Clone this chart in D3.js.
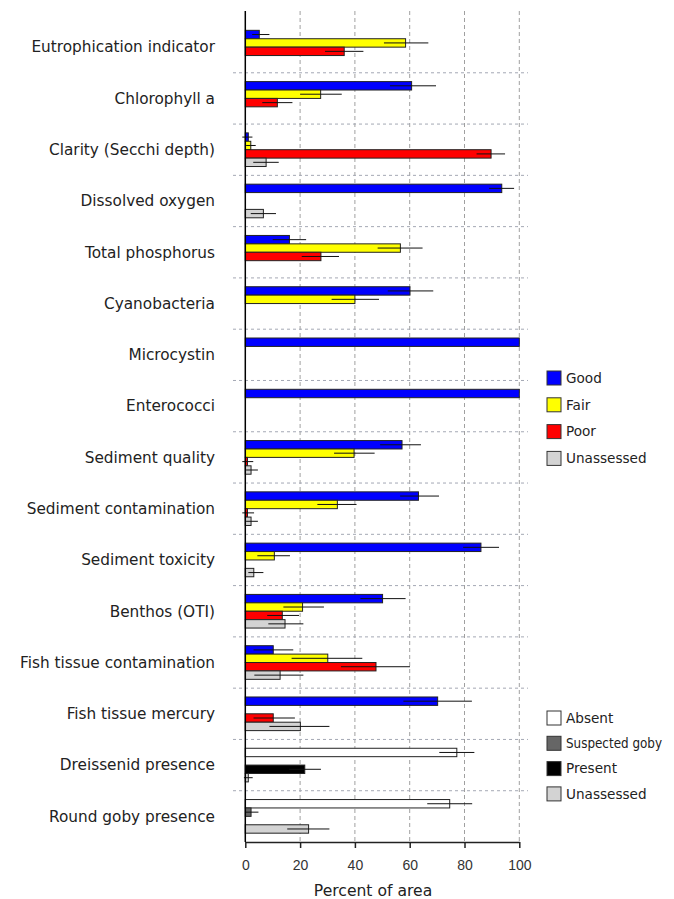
<!DOCTYPE html>
<html>
<head>
<meta charset="utf-8">
<script src="https://cdn.jsdelivr.net/npm/d3@7"></script>
<style>
  body { margin: 0; background: #fff; }
  svg { display: block; font-family: "DejaVu Sans", Verdana, sans-serif; }
</style>
</head>
<body>
<svg id="chart" width="674" height="899"></svg>
<script>
// Indicator rows (condition classes) and species rows (presence classes)
const condCategories = [
  "Eutrophication indicator", "Chlorophyll a", "Clarity (Secchi depth)",
  "Dissolved oxygen", "Total phosphorus", "Cyanobacteria", "Microcystin",
  "Enterococci", "Sediment quality", "Sediment contamination",
  "Sediment toxicity", "Benthos (OTI)", "Fish tissue contamination",
  "Fish tissue mercury"
];
const presCategories = ["Dreissenid presence", "Round goby presence"];

const condClasses = ["Good", "Fair", "Poor", "Unassessed"];
const presClasses = ["Absent", "Suspected goby", "Present", "Unassessed"];

// Each entry: [percent, lower bound, upper bound]; null = class not reported
const good = [
  [5.1, 2.5, 8.8], [60.7, 52.8, 69.6], [1.1, -1.1, 2.6], [93.6, 89, 98.1],
  [16.1, 10, 22.2], [60.1, 52, 68.6], [100, null, null], [100, null, null],
  [57.2, 49.2, 64.1], [63.2, 56.5, 70.7], [86, 79.5, 92.6], [50.1, 42, 58.5],
  [10.2, 3, 17.5], [70.2, 57.7, 82.7]
];
const fair = [
  [58.5, 50.6, 66.8], [27.5, 20, 35.2], [2, 0.3, 3.8], null,
  [56.6, 48.3, 64.7], [40, 31.5, 48.8], null, null,
  [39.7, 32.4, 47.2], [33.6, 26.3, 40.6], [10.6, 4.4, 16.3], [20.9, 13.9, 28.7],
  [30.1, 16.9, 42.7], null
];
const poor = [
  [36.1, 29.1, 43.1], [11.7, 6.2, 17.2], [89.7, 84.4, 94.8], null,
  [27.6, 20.6, 34.2], null, null, null,
  [0.8, -1.1, 2.9], [0.8, -1.1, 3.2], null, [13.5, 8, 19.6],
  [47.7, 34.9, 60.1], [10.2, 3, 18.1]
];
const unassessed = [
  null, null, [7.6, 2.9, 12.2], [6.6, 2, 11.2],
  null, null, null, null,
  [2.1, 0.3, 4.6], [2.1, 0.3, 4.6], [3.1, 1.1, 6.6], [14.5, 8.4, 21.2],
  [12.7, 3.3, 21.2], [20.1, 8.8, 30.7]
];
const absent = [[77.2, 70.8, 83.6], [74.6, 66.4, 82.8]];
const suspected = [null, [2.1, 0, 4.8]];
const present = [[21.7, 16, 27.6], null];
const presUnassessed = [[1.1, -0.5, 2.7], [23.1, 15.3, 30.7]];

const xTicks = [0, 20, 40, 60, 80, 100];

const condColors = ["#0000ff", "#ffff00", "#ff0000", "#d3d3d3"];
const presColors = ["#ffffff", "#666666", "#000000", "#d3d3d3"];

// Build one record per drawn bar
const categories = condCategories.concat(presCategories);
const condSeries = [good, fair, poor, unassessed];
const presSeries = [absent, suspected, present, presUnassessed];
const bars = [];
condSeries.forEach((arr, s) => arr.forEach((d, i) => {
  if (d) bars.push({ cat: condCategories[i], slot: s, v: d[0], lo: d[1], hi: d[2], fill: condColors[s] });
}));
presSeries.forEach((arr, s) => arr.forEach((d, i) => {
  if (d) bars.push({ cat: presCategories[i], slot: s, v: d[0], lo: d[1], hi: d[2], fill: presColors[s] });
}));

const svg = d3.select("#chart");

const x = d3.scaleLinear().domain([0, 100]).range([245.3, 519.3]);
const y = d3.scaleBand().domain(categories).range([21.5, 842]).padding(0);
const slot = d3.scaleBand().domain([0, 1, 2, 3]).range([0, y.bandwidth()])
  .paddingInner(0).paddingOuter(1.05);

const plotTop = 11, plotBottom = 842;

// Vertical dashed grid
svg.append("g").selectAll("line").data(xTicks.slice(1)).join("line")
  .attr("x1", d => x(d)).attr("x2", d => x(d))
  .attr("y1", plotTop).attr("y2", plotBottom)
  .attr("stroke", "#a0a0a0").attr("stroke-width", 1)
  .attr("stroke-dasharray", "4,3");

// Horizontal dashed row separators
svg.append("g").selectAll("line").data(categories.slice(1)).join("line")
  .attr("x1", 233).attr("x2", 528)
  .attr("y1", d => y(d)).attr("y2", d => y(d))
  .attr("stroke", "#a4a8b4").attr("stroke-width", 1)
  .attr("stroke-dasharray", "3,3");

// Bars
svg.append("g").selectAll("rect").data(bars).join("rect")
  .attr("x", x(0))
  .attr("y", d => y(d.cat) + slot(d.slot))
  .attr("width", d => x(d.v) - x(0))
  .attr("height", slot.bandwidth())
  .attr("fill", d => d.fill)
  .attr("stroke", "#222").attr("stroke-width", 1);

// Confidence intervals
svg.append("g").selectAll("line").data(bars.filter(d => d.lo != null)).join("line")
  .attr("x1", d => x(d.lo)).attr("x2", d => x(d.hi))
  .attr("y1", d => y(d.cat) + slot(d.slot) + slot.bandwidth() / 2)
  .attr("y2", d => y(d.cat) + slot(d.slot) + slot.bandwidth() / 2)
  .attr("stroke", "#111").attr("stroke-width", 1);

// Left axis line
svg.append("line")
  .attr("x1", x(0)).attr("x2", x(0)).attr("y1", plotTop).attr("y2", plotBottom)
  .attr("stroke", "#000").attr("stroke-width", 1.5);

// Category labels
svg.append("g").selectAll("text").data(categories).join("text")
  .attr("x", 215).attr("y", d => y(d) + y.bandwidth() / 2)
  .attr("dy", "0.35em").attr("text-anchor", "end")
  .attr("font-size", 15.3).attr("fill", "#222")
  .text(d => d);

// Bottom axis
const xAxis = svg.append("g")
  .attr("transform", `translate(0,${plotBottom})`)
  .call(d3.axisBottom(x).tickValues(xTicks).tickSize(6).tickPadding(12).tickSizeOuter(0));
xAxis.select(".domain").attr("stroke", "#222").attr("stroke-width", 1.5);
xAxis.selectAll(".tick line").attr("stroke", "#222").attr("stroke-width", 1.5);
xAxis.selectAll(".tick text")
  .attr("font-family", "Liberation Sans, Arial, sans-serif")
  .attr("font-size", 14).attr("fill", "#333");

svg.append("text")
  .attr("x", 373).attr("y", 891)
  .attr("dy", "0.35em").attr("text-anchor", "middle")
  .attr("font-size", 15.6).attr("fill", "#222")
  .text("Percent of area");

// Legends
function legend(classes, colors, top, step) {
  const g = svg.append("g").selectAll("g").data(classes).join("g")
    .attr("transform", (d, i) => `translate(547,${top + i * step})`);
  g.append("rect").attr("width", 14).attr("height", 14)
    .attr("fill", (d, i) => colors[i]).attr("stroke", "#333").attr("stroke-width", 1);
  const t = g.append("text").attr("x", 19).attr("y", 7).attr("dy", "0.35em")
    .attr("font-size", 13.6).attr("fill", "#222").text(d => d);
  // keep long entries inside the page
  t.each(function () {
    const avail = 674 - 566 - 12;
    if (this.getComputedTextLength() > avail) {
      d3.select(this).attr("textLength", avail).attr("lengthAdjust", "spacingAndGlyphs");
    }
  });
}
legend(condClasses, condColors, 371, 26.8);
legend(presClasses, presColors, 711, 25.3);
</script>
</body>
</html>
